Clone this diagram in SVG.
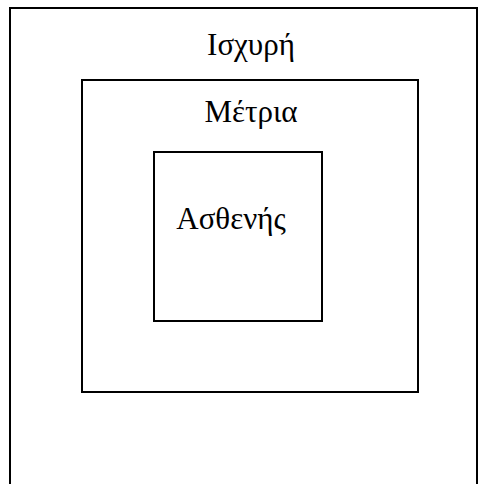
<svg xmlns="http://www.w3.org/2000/svg" width="480" height="484" viewBox="0 0 480 484">
  <style>
    .box { fill: none; stroke: #000; stroke-width: 2; }
    .label { font-family: "Liberation Serif", "Times New Roman", serif; font-size: 31px; fill: #000; text-anchor: middle; }
  </style>
  <rect width="480" height="484" fill="#fff"/>
  <!-- outer level: open at the bottom edge -->
  <g id="ischyri">
    <path class="box" d="M10,484 V8 H477 V484"/>
    <text class="label" x="251" y="55">Ισχυρή</text>
  </g>
  <g id="metria">
    <rect class="box" x="82" y="80" width="336" height="312"/>
    <text class="label" x="251" y="122">Μέτρια</text>
  </g>
  <g id="asthenis">
    <rect class="box" x="154" y="152" width="168" height="169"/>
    <text class="label" x="231" y="229">Ασθενής</text>
  </g>
  <g id="connectors"/>
</svg>
